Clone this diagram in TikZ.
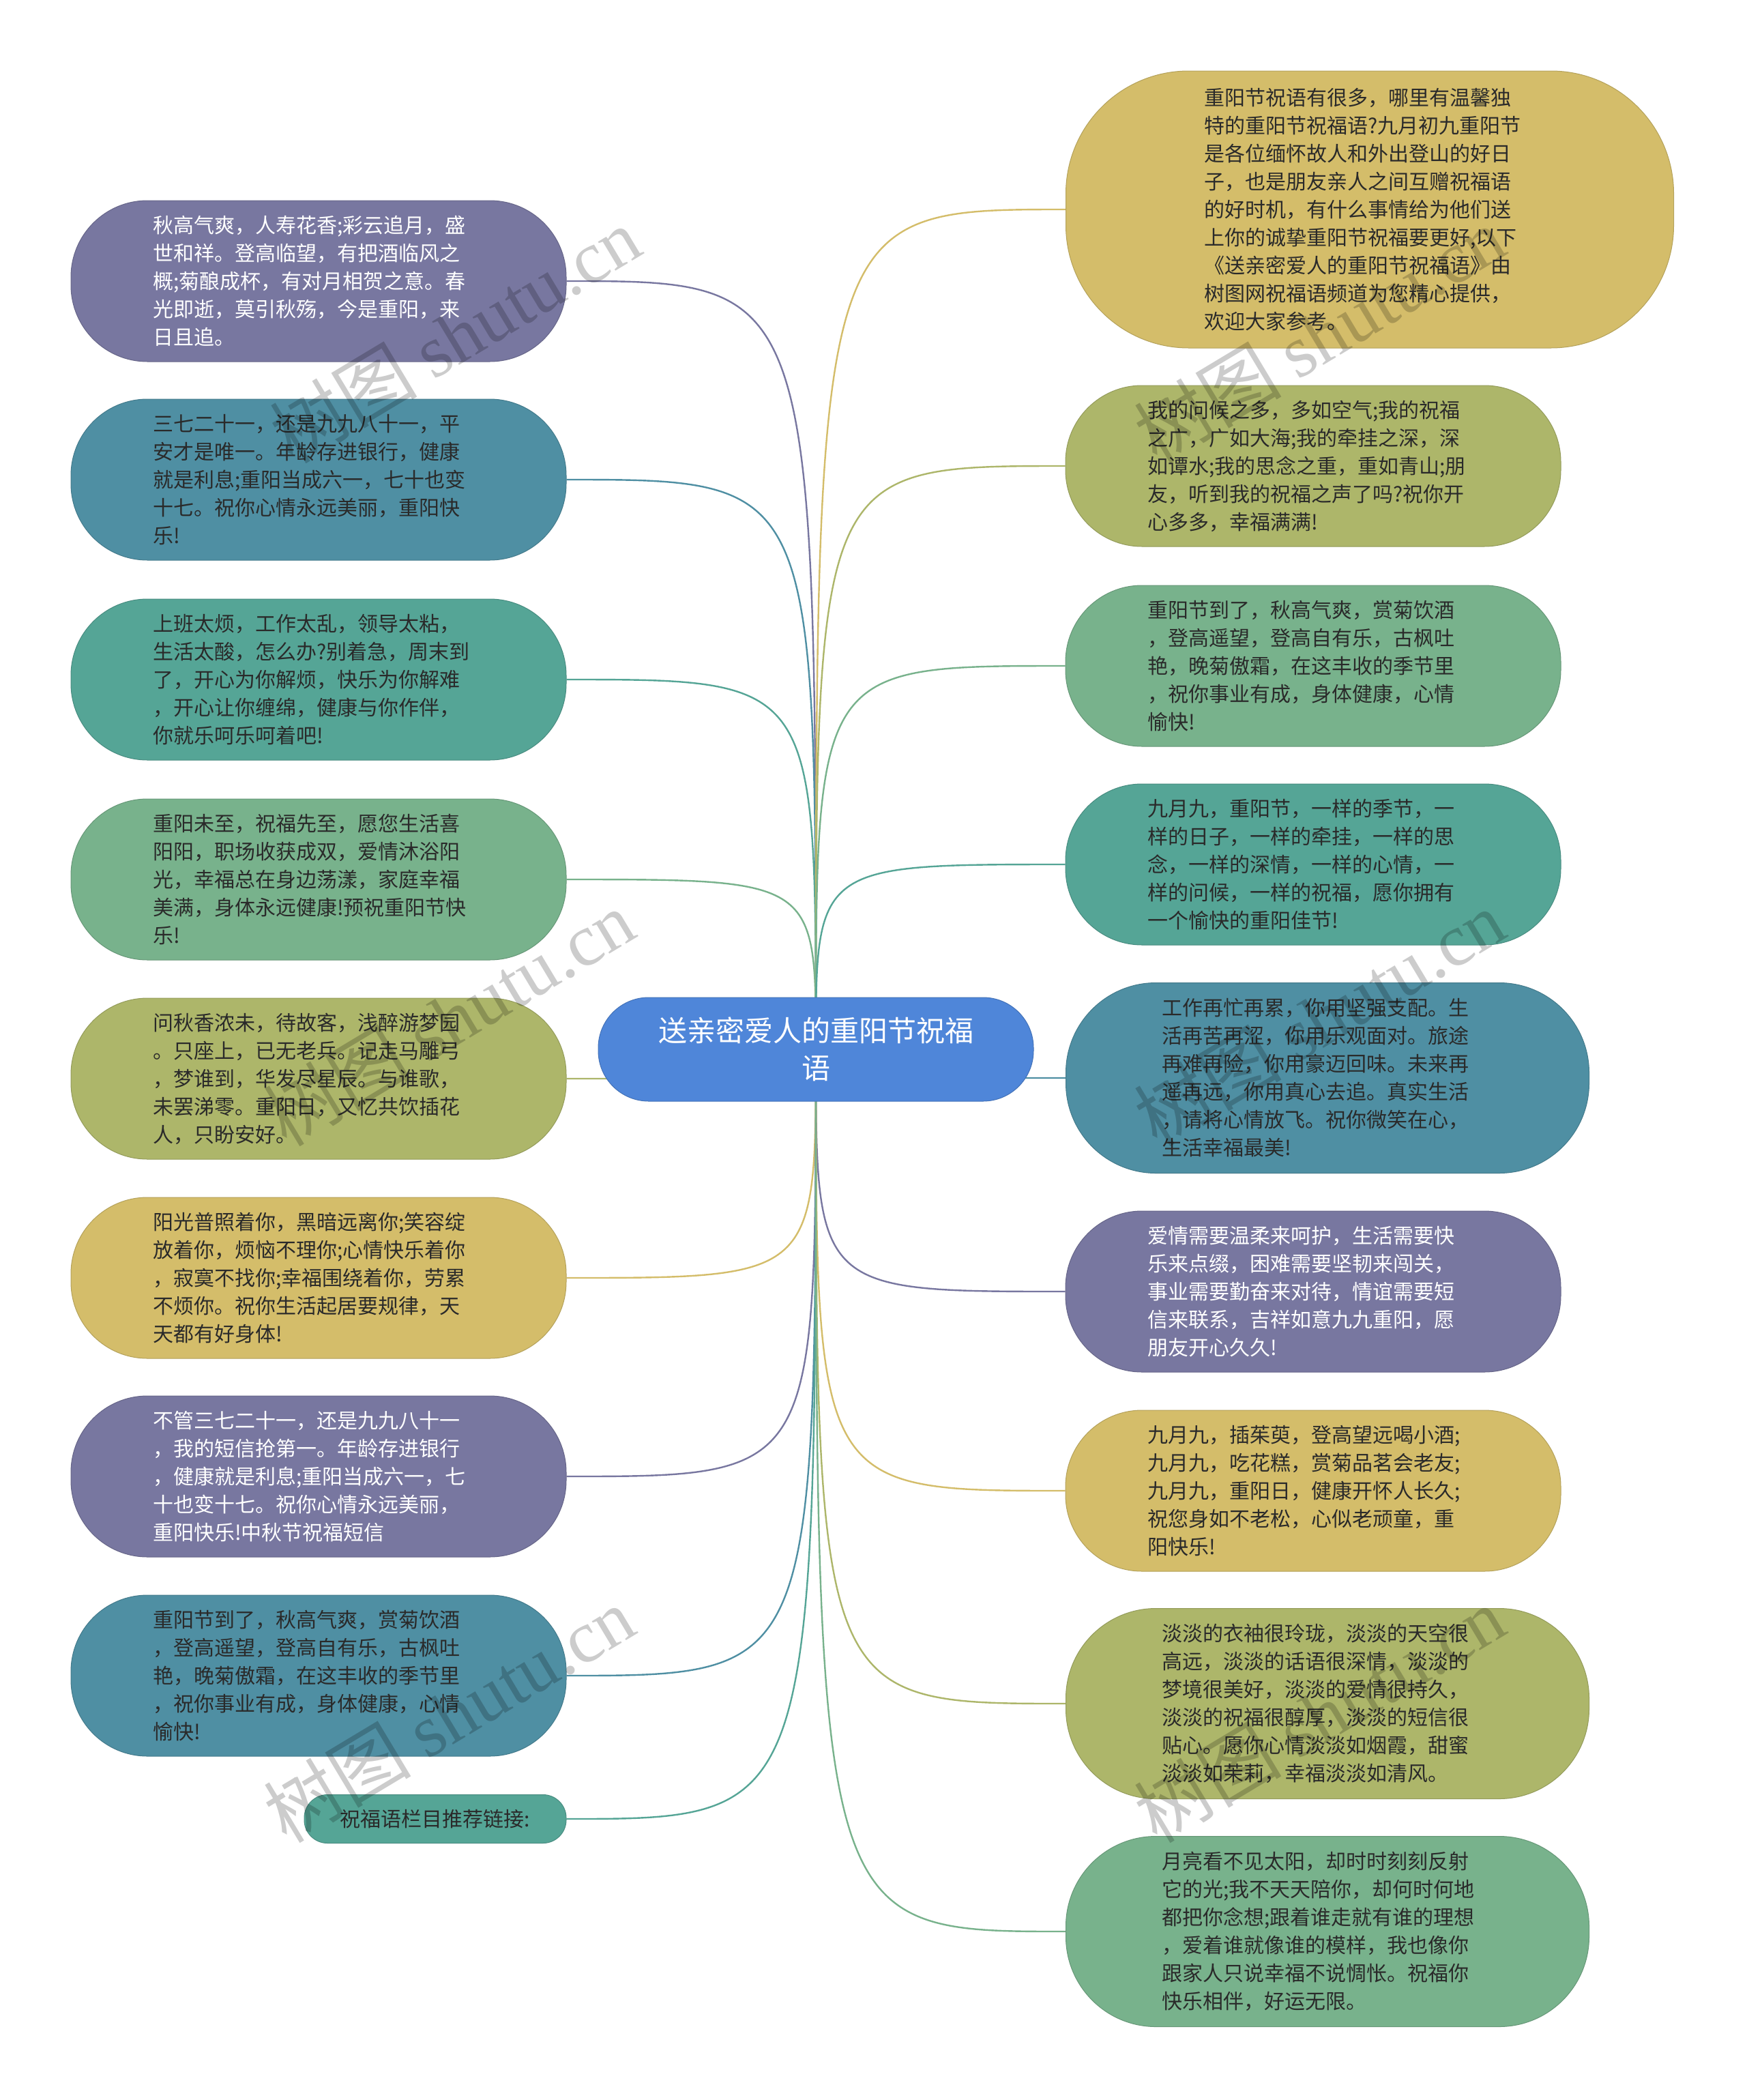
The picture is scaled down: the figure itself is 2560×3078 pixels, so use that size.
\documentclass[tikz,border=0pt]{standalone}
\usepackage{fontspec}
\setmainfont{Noto Sans CJK SC}
\newfontfamily\wmfont{Liberation Serif}
\usetikzlibrary{backgrounds}
\definecolor{cPurple}{HTML}{7877A0}
\definecolor{cTeal}{HTML}{4F8FA3}
\definecolor{cSea}{HTML}{55A596}
\definecolor{cGreen}{HTML}{78B28C}
\definecolor{cOlive}{HTML}{ADB66A}
\definecolor{cGold}{HTML}{D4BD6A}
\definecolor{cBlue}{HTML}{4F86D9}
\definecolor{cText}{HTML}{2A2A2A}
\begin{document}
\begin{tikzpicture}[x=0.5pt,y=-0.5pt,
  leaf/.style={shape=rectangle, rounded corners=56pt, minimum width=363pt, minimum height=118pt,
    text width=243pt, align=left, inner sep=0pt, text=cText,
    font=\fontsize{15}{20.5}\selectfont},
  wide/.style={minimum width=383.5pt, minimum height=139.5pt, rounded corners=66pt},
  fPurple/.style={fill=cPurple, draw=cPurple!85!black, line width=0.5pt, text=white},
  fTeal/.style={fill=cTeal, draw=cTeal!85!black, line width=0.5pt},
  fSea/.style={fill=cSea, draw=cSea!85!black, line width=0.5pt},
  fGreen/.style={fill=cGreen, draw=cGreen!85!black, line width=0.5pt},
  fOlive/.style={fill=cOlive, draw=cOlive!85!black, line width=0.5pt},
  fGold/.style={fill=cGold, draw=cGold!85!black, line width=0.5pt},
  edge/.style={line width=1.2pt},
  wm/.style={rotate=31, text=black, opacity=0.2, font=\fontsize{54}{60}\selectfont}
]
\useasboundingbox (0,0) rectangle (2560,3078);

% centre
\node[shape=rectangle, rounded corners=37pt, minimum width=319pt, minimum height=76pt,
  fill=cBlue, draw=cBlue!85!black, line width=0.5pt, text=white, align=center, inner sep=0pt,
  font=\fontsize{21}{27.5}\selectfont] (C) at (1196,1538) {送亲密爱人的重阳节祝福\\语};

% left column
\node[leaf,fPurple] (L1) at (467,412) {秋高气爽，人寿花香;彩云追月，盛\\世和祥。登高临望，有把酒临风之\\概;菊酿成杯，有对月相贺之意。春\\光即逝，莫引秋殇，今是重阳，来\\日且追。};
\node[leaf,fTeal] (L2) at (467,703) {三七二十一，还是九九八十一，平\\安才是唯一。年龄存进银行，健康\\就是利息;重阳当成六一，七十也变\\十七。祝你心情永远美丽，重阳快\\乐!};
\node[leaf,fSea] (L3) at (467,996) {上班太烦，工作太乱，领导太粘，\\生活太酸，怎么办?别着急，周末到\\了，开心为你解烦，快乐为你解难\\，开心让你缠绵，健康与你作伴，\\你就乐呵乐呵着吧!};
\node[leaf,fGreen] (L4) at (467,1289) {重阳未至，祝福先至，愿您生活喜\\阳阳，职场收获成双，爱情沐浴阳\\光，幸福总在身边荡漾，家庭幸福\\美满，身体永远健康!预祝重阳节快\\乐!};
\node[leaf,fOlive] (L5) at (467,1581) {问秋香浓未，待故客，浅醉游梦园\\。只座上，已无老兵。记走马雕弓\\，梦谁到，华发尽星辰。与谁歌，\\未罢涕零。重阳日，又忆共饮插花\\人，只盼安好。};
\node[leaf,fGold] (L6) at (467,1873) {阳光普照着你，黑暗远离你;笑容绽\\放着你，烦恼不理你;心情快乐着你\\，寂寞不找你;幸福围绕着你，劳累\\不烦你。祝你生活起居要规律，天\\天都有好身体!};
\node[leaf,fPurple] (L7) at (467,2164) {不管三七二十一，还是九九八十一\\，我的短信抢第一。年龄存进银行\\，健康就是利息;重阳当成六一，七\\十也变十七。祝你心情永远美丽，\\重阳快乐!中秋节祝福短信};
\node[leaf,fTeal] (L8) at (467,2456) {重阳节到了，秋高气爽，赏菊饮酒\\，登高遥望，登高自有乐，古枫吐\\艳，晚菊傲霜，在这丰收的季节里\\，祝你事业有成，身体健康，心情\\愉快!};
\node[leaf,fSea, minimum width=192pt, minimum height=35.5pt, rounded corners=17pt, text width=, align=center] (L9) at (638,2666) {祝福语栏目推荐链接:};

% right column
\node[leaf,fGold, minimum width=445.5pt, minimum height=203pt, rounded corners=90pt] (R1) at (2008,307) {重阳节祝语有很多，哪里有温馨独\\特的重阳节祝福语?九月初九重阳节\\是各位缅怀故人和外出登山的好日\\子，也是朋友亲人之间互赠祝福语\\的好时机，有什么事情给为他们送\\上你的诚挚重阳节祝福要更好,以下\\《送亲密爱人的重阳节祝福语》由\\树图网祝福语频道为您精心提供，\\欢迎大家参考。};
\node[leaf,fOlive] (R2) at (1925,683) {我的问候之多，多如空气;我的祝福\\之广，广如大海;我的牵挂之深，深\\如谭水;我的思念之重，重如青山;朋\\友，听到我的祝福之声了吗?祝你开\\心多多，幸福满满!};
\node[leaf,fGreen] (R3) at (1925,976) {重阳节到了，秋高气爽，赏菊饮酒\\，登高遥望，登高自有乐，古枫吐\\艳，晚菊傲霜，在这丰收的季节里\\，祝你事业有成，身体健康，心情\\愉快!};
\node[leaf,fSea] (R4) at (1925,1267) {九月九，重阳节，一样的季节，一\\样的日子，一样的牵挂，一样的思\\念，一样的深情，一样的心情，一\\样的问候，一样的祝福，愿你拥有\\一个愉快的重阳佳节!};
\node[leaf,wide,fTeal] (R5) at (1946,1580) {工作再忙再累，你用坚强支配。生\\活再苦再涩，你用乐观面对。旅途\\再难再险，你用豪迈回味。未来再\\遥再远，你用真心去追。真实生活\\，请将心情放飞。祝你微笑在心，\\生活幸福最美!};
\node[leaf,fPurple] (R6) at (1925,1893) {爱情需要温柔来呵护，生活需要快\\乐来点缀，困难需要坚韧来闯关，\\事业需要勤奋来对待，情谊需要短\\信来联系，吉祥如意九九重阳，愿\\朋友开心久久!};
\node[leaf,fGold] (R7) at (1925,2185) {九月九，插茱萸，登高望远喝小酒;\\九月九，吃花糕，赏菊品茗会老友;\\九月九，重阳日，健康开怀人长久;\\祝您身如不老松，心似老顽童，重\\阳快乐!};
\node[leaf,wide,fOlive] (R8) at (1946,2497) {淡淡的衣袖很玲珑，淡淡的天空很\\高远，淡淡的话语很深情，淡淡的\\梦境很美好，淡淡的爱情很持久，\\淡淡的祝福很醇厚，淡淡的短信很\\贴心。愿你心情淡淡如烟霞，甜蜜\\淡淡如茉莉，幸福淡淡如清风。};
\node[leaf,wide,fGreen] (R9) at (1946,2831) {月亮看不见太阳，却时时刻刻反射\\它的光;我不天天陪你，却何时何地\\都把你念想;跟着谁走就有谁的理想\\，爱着谁就像谁的模样，我也像你\\跟家人只说幸福不说惆怅。祝福你\\快乐相伴，好运无限。};

% connectors
\begin{scope}[on background layer]
\fill[white] (0,0) rectangle (2560,3078);
\foreach \n/\c in {L1/cPurple,L2/cTeal,L3/cSea,L4/cGreen,L5/cOlive,L6/cGold,L7/cPurple,L8/cTeal,L9/cSea}{
  \draw[edge,\c] (C.center) .. controls (C.center |- \n.east) .. (\n.east);
}
\foreach \n/\c in {R1/cGold,R2/cOlive,R3/cGreen,R4/cSea,R5/cTeal,R6/cPurple,R7/cGold,R8/cOlive,R9/cGreen}{
  \draw[edge,\c] (C.center) .. controls (C.center |- \n.west) .. (\n.west);
}
\end{scope}

% watermarks
\foreach \i/\x/\y in {1/667/491,2/658/1492,3/658/2513,4/1934/491,5/1934/1492,6/1934/2513}{
  \node[wm] (W\i) at (\x,\y) {树图 {\wmfont shutu.cn}};
}
\end{tikzpicture}
\end{document}
